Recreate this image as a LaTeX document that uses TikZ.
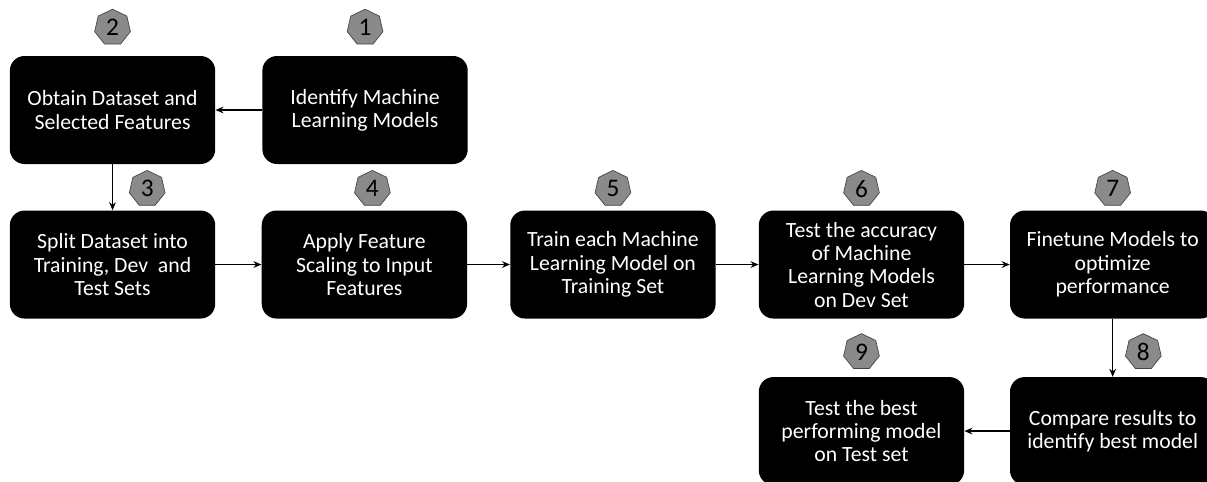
\documentclass[tikz,border=0pt]{standalone}
\usepackage{fontspec}
\setmainfont{Carlito}
\usepackage{tikz}
\usetikzlibrary{positioning,shapes.geometric,arrows.meta}
\definecolor{badgefill}{HTML}{8A8A8A}
\definecolor{badgeline}{HTML}{444444}
\tikzset{
  stepbox/.style={rectangle,fill=black,text=white,rounded corners=11pt,
    align=center,inner sep=2pt,font=\fontsize{16.3}{17.5}\selectfont,
    minimum width=154pt,minimum height=81pt},
  badge/.style={regular polygon,regular polygon sides=7,draw=badgeline,
    fill=badgefill,inner sep=0pt,minimum size=27.5pt,line width=0.5pt,
    font=\fontsize{19}{19}\selectfont},
  fl/.style={-{Stealth[length=6pt,width=5pt]},line width=1.1pt},
}
\begin{document}
\begin{tikzpicture}
  \useasboundingbox (0,0) rectangle (905.25pt,-361.5pt);
  % steps
  \node[stepbox] (obtain) at (84.4pt,-82.5pt) {Obtain Dataset and\\Selected Features};
  \node[stepbox,right=35pt of obtain] (identify) {Identify Machine\\Learning Models};
  \node[stepbox,below=34.5pt of obtain] (split) {Split Dataset into\\Training, Dev\ \ and\\Test Sets};
  \node[stepbox,right=34.5pt of split] (scale) {Apply Feature\\Scaling to Input\\Features};
  \node[stepbox,right=32pt of scale] (train) {Train each Machine\\Learning Model on\\Training Set};
  \node[stepbox,right=32pt of train] (testacc) {Test the accuracy\\of Machine\\Learning Models\\on Dev Set};
  \node[stepbox,right=34pt of testacc] (finetune) {Finetune Models to\\optimize\\performance};
  \node[stepbox,below=43.5pt of finetune] (compare) {Compare results to\\identify best model};
  \node[stepbox,left=34pt of compare] (testbest) {Test the best\\performing model\\on Test set};
  % numbers
  \node[badge,above=8.5pt of identify] (b1) {1};
  \node[badge,above=8.5pt of obtain] (b2) {2};
  \node[badge,above=3.5pt of split,xshift=26pt] (b3) {3};
  \node[badge,above=3.5pt of scale,xshift=6pt] (b4) {4};
  \node[badge,above=3.5pt of train] (b5) {5};
  \node[badge,above=3.5pt of testacc] (b6) {6};
  \node[badge,above=3.5pt of finetune] (b7) {7};
  \node[badge,above=6pt of compare,xshift=23pt] (b8) {8};
  \node[badge,above=6pt of testbest] (b9) {9};
  % flow
  \draw[fl] (identify)--(obtain);
  \draw[fl] (obtain)--(split);
  \draw[fl] (split)--(scale);
  \draw[fl] (scale)--(train);
  \draw[fl] (train)--(testacc);
  \draw[fl] (testacc)--(finetune);
  \draw[fl] (finetune)--(compare);
  \draw[fl] (compare)--(testbest);
\end{tikzpicture}
\end{document}
